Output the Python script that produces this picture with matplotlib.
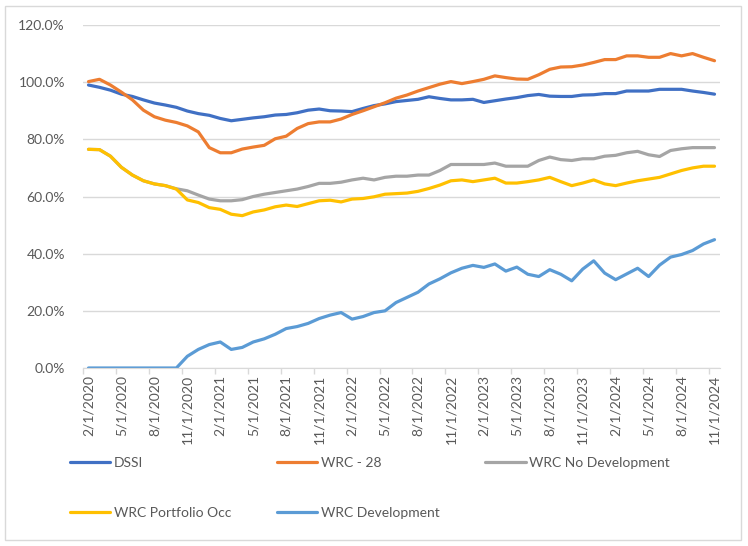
import numpy as np
import matplotlib
matplotlib.use("Agg")
import matplotlib.pyplot as plt
from matplotlib.patches import Rectangle
from matplotlib.ticker import FixedLocator, FuncFormatter

# monthly dates, 2/1/2020 .. 11/1/2024
months = []
for yr in range(2020, 2025):
    for m in range(1, 13):
        if (yr == 2020 and m < 2) or (yr == 2024 and m > 11):
            continue
        months.append(f"{m}/1/{yr}")

dssi = [99.0, 98.2, 97.2, 95.8, 95.0, 93.8, 92.7, 92.0, 91.2, 89.9,
        89.0, 88.4, 87.3, 86.5, 87.0, 87.5, 87.9, 88.5, 88.7, 89.3,
        90.2, 90.6, 90.0, 89.9, 89.7, 90.8, 91.8, 92.4, 93.2, 93.6,
        94.0, 94.9, 94.3, 93.8, 93.8, 94.0, 92.9, 93.5, 94.1, 94.6,
        95.3, 95.7, 95.1, 95.0, 95.0, 95.5, 95.6, 96.0, 96.0, 96.9,
        96.9, 96.9, 97.5, 97.5, 97.5, 96.9, 96.4, 95.8]

wrc28 = [100.2, 101.0, 99.0, 96.5, 93.8, 90.2, 87.9, 86.7, 85.9, 84.7,
         82.6, 77.1, 75.3, 75.3, 76.6, 77.3, 77.9, 80.2, 81.1, 83.8,
         85.5, 86.1, 86.1, 87.1, 88.7, 90.0, 91.4, 92.8, 94.4, 95.5,
         96.9, 98.1, 99.3, 100.2, 99.5, 100.2, 101.0, 102.2, 101.6, 101.1,
         101.0, 102.6, 104.5, 105.3, 105.4, 106.0, 106.9, 107.9, 107.9, 109.2,
         109.2, 108.7, 108.7, 110.0, 109.2, 110.0, 108.7, 107.5]

no_dev = [76.5, 76.4, 74.1, 70.2, 67.5, 65.5, 64.4, 63.8, 62.7, 62.0,
          60.5, 59.1, 58.5, 58.5, 58.9, 60.0, 60.8, 61.4, 62.0, 62.6,
          63.5, 64.6, 64.6, 65.0, 65.8, 66.4, 65.8, 66.7, 67.1, 67.1,
          67.5, 67.5, 69.1, 71.2, 71.2, 71.2, 71.2, 71.7, 70.6, 70.6,
          70.6, 72.6, 73.8, 72.9, 72.6, 73.2, 73.2, 74.1, 74.4, 75.3,
          75.8, 74.6, 74.0, 76.1, 76.7, 77.1, 77.1, 77.1]

portfolio = [76.5, 76.4, 74.1, 70.2, 67.5, 65.5, 64.4, 63.8, 62.6, 58.8,
             57.9, 56.1, 55.5, 53.8, 53.3, 54.6, 55.3, 56.4, 57.0, 56.5,
             57.5, 58.5, 58.7, 58.1, 59.1, 59.3, 59.9, 60.8, 61.0, 61.2,
             61.8, 62.8, 64.0, 65.5, 65.8, 65.2, 65.8, 66.4, 64.7, 64.7,
             65.2, 65.8, 66.7, 65.2, 63.8, 64.7, 65.8, 64.4, 63.8, 64.7,
             65.5, 66.1, 66.7, 67.9, 69.1, 70.0, 70.6, 70.6]

development = [0, 0, 0, 0, 0, 0, 0, 0, 0, 4.1,
               6.5, 8.2, 9.1, 6.5, 7.2, 9.1, 10.2, 11.8, 13.8, 14.5,
               15.6, 17.3, 18.5, 19.4, 17.1, 18.0, 19.4, 20.0, 22.9, 24.7,
               26.5, 29.4, 31.2, 33.3, 34.9, 35.9, 35.2, 36.4, 33.9, 35.3,
               32.8, 32.0, 34.4, 32.8, 30.5, 34.6, 37.5, 33.2, 30.9, 32.9,
               34.9, 32.0, 36.0, 38.8, 39.7, 41.1, 43.4, 44.9]

series = [
    ("DSSI", dssi, "#4070C4"),
    ("WRC - 28", wrc28, "#ED7D31"),
    ("WRC No Development", no_dev, "#A5A5A5"),
    ("WRC Portfolio Occ", portfolio, "#FFC000"),
    ("WRC Development", development, "#5B9BD5"),
]

plt.rcParams['font.family'] = ['Lato', 'DejaVu Sans']
txt = "#595959"

W, H = 748, 546
fig = plt.figure(figsize=(W / 100, H / 100), dpi=100)
ax = fig.add_axes([83 / W, 1 - 368 / H, (720 - 83) / W, (368 - 25) / H])

x = np.arange(len(months))
lines = {}
for name, vals, col in series:
    ln, = ax.plot(x, vals, color=col, lw=2.3, solid_capstyle='round',
                  solid_joinstyle='round', label=name)
    lines[name] = ln

ax.set_xlim(-0.5, len(months) - 0.5)
ax.set_ylim(0, 120)
ax.set_yticks(np.arange(0, 121, 20))
ax.yaxis.set_major_formatter(FuncFormatter(lambda v, p: f"{v:.1f}%"))
ax.grid(axis='y', color='#D9D9D9', lw=1)
ax.set_axisbelow(True)

# labels every 3 months, tick marks between categories
ax.xaxis.set_major_locator(FixedLocator(x[::3]))
ax.set_xticklabels(months[::3], rotation=90, va='top', ha='center')
ax.xaxis.set_minor_locator(FixedLocator(np.arange(-0.5, len(months) - 1, 3)))
ax.tick_params(axis='x', which='major', length=0, pad=5, labelsize=10, labelcolor=txt)
ax.tick_params(axis='x', which='minor', length=4, width=1, color='#D9D9D9', direction='out')
ax.tick_params(axis='y', length=0, pad=13, labelsize=10, labelcolor=txt)

for s in ['top', 'right', 'left']:
    ax.spines[s].set_visible(False)
ax.spines['bottom'].set_color('#D9D9D9')

order = ["DSSI", "WRC Portfolio Occ", "WRC - 28", "WRC Development", "WRC No Development"]
fig.legend([lines[n] for n in order], order, ncol=3, loc='upper left',
           bbox_to_anchor=(70 / W, 1 - 457 / H), frameon=False,
           fontsize=10, labelcolor=txt, handlelength=2.9, handletextpad=0.25,
           columnspacing=3.3, labelspacing=2.72, borderpad=0, borderaxespad=0)

fig.patches.append(Rectangle((5 / W, 6 / H), (741 - 5) / W, (540 - 6) / H,
                             transform=fig.transFigure, fill=False,
                             edgecolor='#D9D9D9', lw=1))

fig.savefig("out.png", dpi=100)
